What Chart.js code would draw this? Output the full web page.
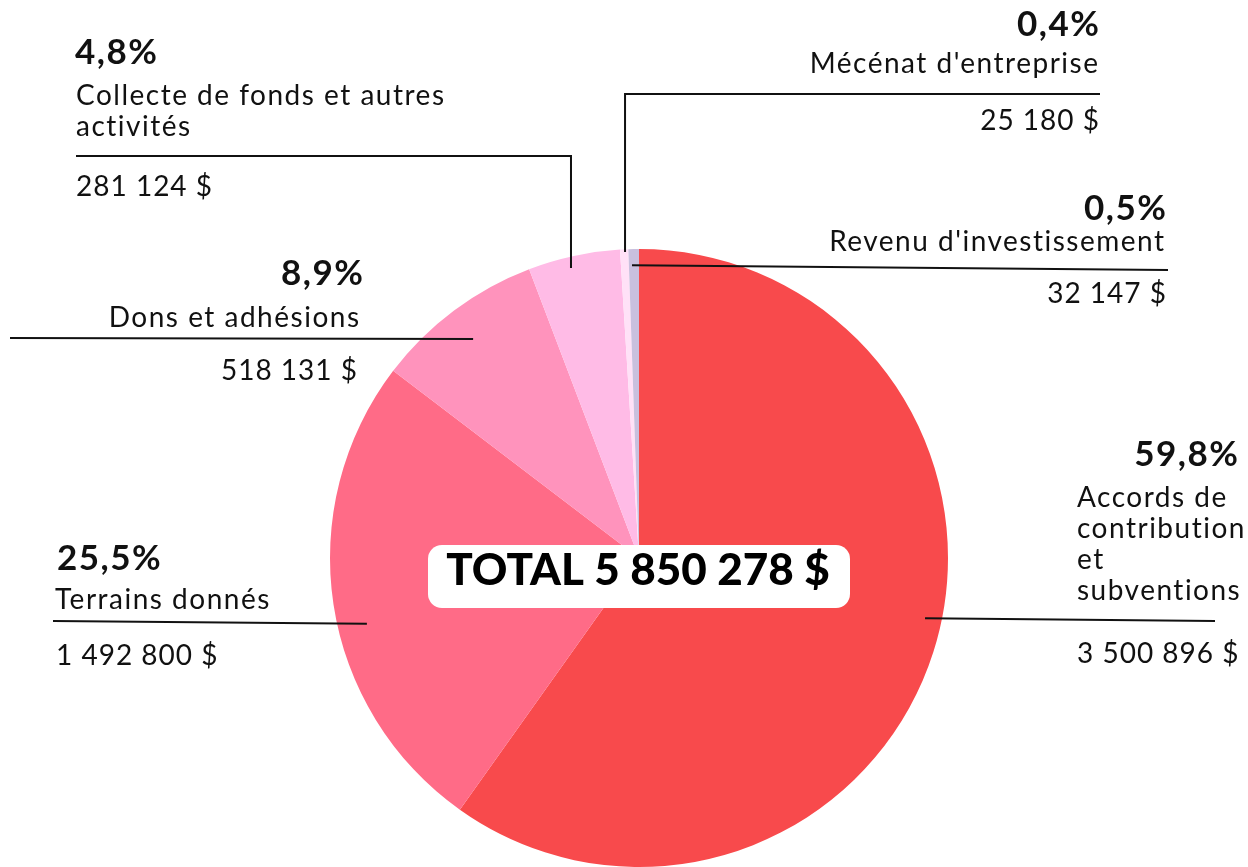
<!DOCTYPE html>
<html>
<head>
<meta charset="utf-8">
<script src="https://cdn.jsdelivr.net/npm/chart.js@4"></script>
<style>
  html, body { margin: 0; padding: 0; background: #fff; }
  #wrap { width: 1248px; height: 867px; position: relative; }
</style>
</head>
<body>
<div id="wrap"><canvas id="chart"></canvas></div>
<script>
const categories = [
  ["Accords de", "contribution", "et", "subventions"],
  ["Terrains donnés"],
  ["Dons et adhésions"],
  ["Collecte de fonds et autres", "activités"],
  ["Mécénat d'entreprise"],
  ["Revenu d'investissement"]
]
const amounts = [3500896, 1492800, 518131, 281124, 25180, 32147]
const colors = ["#F84A4C", "#FF6B87", "#FF93BC", "#FFBBE6", "#FFE1F7", "#C9C0DE"]
const totalLabel = "TOTAL"

const FONT = "Lato, 'Open Sans', sans-serif"

// where each label sits, and where its leader line enters the slice
// t = fraction along the slice angle, f = fraction of the radius
const labelLayout = [
  { pct: [1238, 466, "right"], name: [1077, 507, "left"], lh: 31, val: [1077, 663, "left"], end: [1215, 621], kind: "straight", t: 0.473, f: 0.946 },
  { pct: [57, 570, "left"], name: [55, 609, "left"], lh: 30, val: [56, 665, "left"], end: [53, 621], kind: "straight", t: 0.446, f: 0.906 },
  { pct: [363, 285, "right"], name: [359, 327, "right"], lh: 30, val: [357, 380, "right"], end: [10, 338], kind: "straight", t: 0.488, f: 0.889 },
  { pct: [75, 64, "left"], name: [76, 105, "left"], lh: 31, val: [76, 196, "left"], end: [76, 156], kind: "elbow", t: 0.441, f: 0.964 },
  { pct: [1099, 36, "right"], name: [1098, 73, "right"], lh: 30, val: [1099, 130, "right"], end: [1100, 94], kind: "elbow", t: 0.59, f: 0.991 },
  { pct: [1166, 220, "right"], name: [1164, 251, "right"], lh: 30, val: [1166, 303, "right"], end: [1168, 270], kind: "straight", t: 0.31, f: 0.948 }
]

function formatAmount(n) {
  return String(n).replace(/\B(?=(\d{3})+(?!\d))/g, " ") + " $"
}

function formatPct(n, total) {
  return (n / total * 100).toFixed(1).replace(".", ",") + "%"
}

const total = amounts.reduce((a, b) => a + b, 0)

// canvas letterSpacing adds trailing space, so nudge right-aligned text
function drawText(ctx, text, x, y, align, spacing) {
  ctx.letterSpacing = spacing + "px"
  ctx.textAlign = align
  ctx.fillText(text, align === "right" ? x + spacing : x, y)
}

const calloutPlugin = {
  id: "callouts",
  afterDraw(chart) {
    const ctx = chart.ctx
    const arcs = chart.getDatasetMeta(0).data

    ctx.save()
    ctx.fillStyle = "#111"
    ctx.strokeStyle = "#111"
    ctx.lineWidth = 2
    ctx.textBaseline = "alphabetic"

    arcs.forEach((arc, i) => {
      const lay = labelLayout[i]
      const p = arc.getProps(["x", "y", "startAngle", "endAngle", "outerRadius"], true)
      const a = p.startAngle + lay.t * (p.endAngle - p.startAngle)
      const ax = p.x + Math.cos(a) * p.outerRadius * lay.f
      const ay = p.y + Math.sin(a) * p.outerRadius * lay.f

      ctx.beginPath()
      if (lay.kind === "elbow") {
        ctx.moveTo(lay.end[0], lay.end[1])
        ctx.lineTo(ax, lay.end[1])
        ctx.lineTo(ax, ay)
      } else {
        ctx.moveTo(lay.end[0], lay.end[1])
        ctx.lineTo(ax, ay)
      }
      ctx.stroke()

      ctx.font = "bold 35px " + FONT
      drawText(ctx, formatPct(amounts[i], total), lay.pct[0], lay.pct[1], lay.pct[2], 1.5)

      ctx.font = "28px " + FONT
      categories[i].forEach((line, k) => {
        drawText(ctx, line, lay.name[0], lay.name[1] + k * lay.lh, lay.name[2], 1.5)
      })
      drawText(ctx, formatAmount(amounts[i]), lay.val[0], lay.val[1], lay.val[2], 1)
    })

    // total box in the middle of the pie
    const c = arcs[0].getProps(["x", "y"], true)
    const bx = c.x - 211, by = c.y - 13, bw = 422, bh = 63
    ctx.letterSpacing = "0px"
    ctx.fillStyle = "#fff"
    ctx.beginPath()
    ctx.roundRect(bx, by, bw, bh, 14)
    ctx.fill()

    ctx.fillStyle = "#000"
    ctx.font = "900 44px " + FONT
    ctx.textAlign = "center"
    ctx.fillText(totalLabel + " " + formatAmount(total), c.x - 1, c.y + 27)
    ctx.restore()
  }
}

new Chart(document.getElementById("chart"), {
  type: "pie",
  data: {
    labels: categories,
    datasets: [{
      data: amounts,
      backgroundColor: colors,
      borderWidth: 0,
    }]
  },
  options: {
    responsive: true,
    maintainAspectRatio: false,
    animation: false,
    layout: {
      padding: { top: 249, bottom: 0, left: 30, right: 0 }
    },
    plugins: {
      legend: { display: false },
      tooltip: { enabled: false },
    },
  },
  plugins: [calloutPlugin],
})
</script>
</body>
</html>
